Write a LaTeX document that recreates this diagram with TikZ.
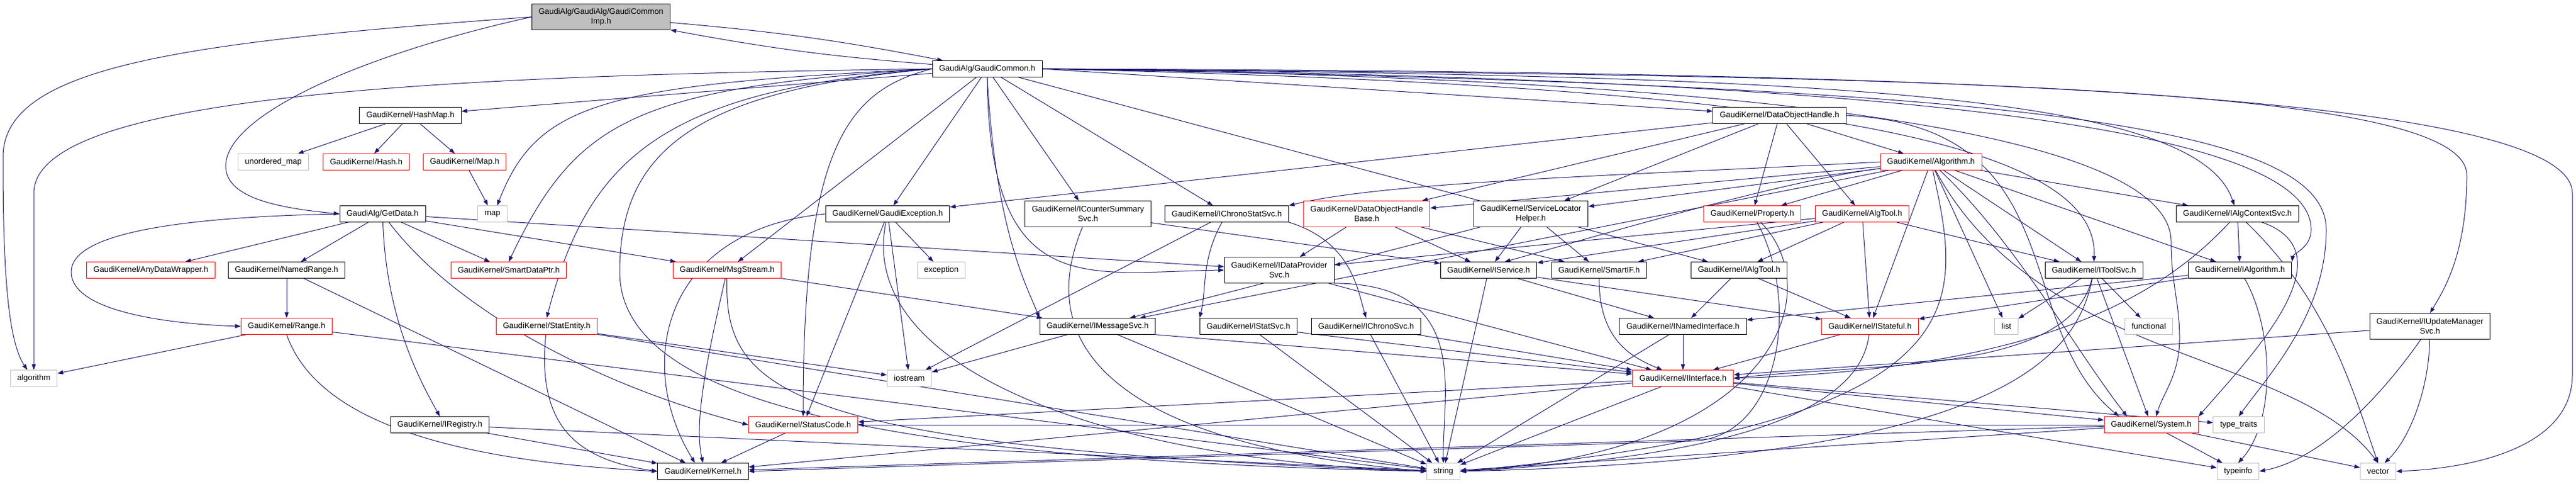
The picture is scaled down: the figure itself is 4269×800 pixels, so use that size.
\documentclass[tikz,border=0pt]{standalone}
\usepackage{fontspec}
\setmainfont{Liberation Sans}
\usetikzlibrary{arrows.meta,backgrounds}
\definecolor{edgeblue}{HTML}{191970}
\definecolor{sysgray}{HTML}{BFBFBF}

\begin{document}
\begin{tikzpicture}[x=0.75pt, y=-0.75pt,
        >={Triangle[length=7pt,width=5pt]},
        file/.style={draw=black, line width=0.75pt, fill=white, inner xsep=8.5pt, inner ysep=0pt, minimum height=20pt, font=\fontsize{10}{12}\selectfont, align=center},
        trunc/.style={file, draw=red},
        sys/.style={file, draw=sysgray},
        twoline/.style={minimum height=32pt},
        dep/.style={->, draw=edgeblue, line width=0.75pt}]
        \useasboundingbox (0,0) rectangle (4269,800);

        \node[file, fill=sysgray, twoline] (imp) at (996,28) {GaudiAlg/GaudiAlg/GaudiCommon\\Imp.h};
        \node[file] (common) at (1636,114) {GaudiAlg/GaudiCommon.h};
        \node[file] (hashmap) at (680,191) {GaudiKernel/HashMap.h};
        \node[file] (dohandle) at (2949,191) {GaudiKernel/DataObjectHandle.h};
        \node[sys] (umap) at (453,268) {unordered\_map};
        \node[trunc] (hash) at (607,268) {GaudiKernel/Hash.h};
        \node[trunc] (mapk) at (770,268) {GaudiKernel/Map.h};
        \node[trunc] (algorithmh) at (3200,268) {GaudiKernel/Algorithm.h};
        \node[file] (getdata) at (634,354) {GaudiAlg/GetData.h};
        \node[sys] (mapstd) at (816,354) {map};
        \node[file] (gexc) at (1471,354) {GaudiKernel/GaudiException.h};
        \node[file, twoline] (counter) at (1803,354) {GaudiKernel/ICounterSummary\\Svc.h};
        \node[file] (ichronostat) at (2033,354) {GaudiKernel/IChronoStatSvc.h};
        \node[trunc, twoline] (dohbase) at (2265,354) {GaudiKernel/DataObjectHandle\\Base.h};
        \node[file, twoline] (slh) at (2537,354) {GaudiKernel/ServiceLocator\\Helper.h};
        \node[trunc] (property) at (2904,354) {GaudiKernel/Property.h};
        \node[trunc] (algtool) at (3086,354) {GaudiKernel/AlgTool.h};
        \node[file] (ialgctx) at (3708,354) {GaudiKernel/IAlgContextSvc.h};
        \node[trunc] (anydata) at (250,447) {GaudiKernel/AnyDataWrapper.h};
        \node[file] (namedrange) at (475,447) {GaudiKernel/NamedRange.h};
        \node[trunc] (smartdataptr) at (843,447) {GaudiKernel/SmartDataPtr.h};
        \node[trunc] (msgstream) at (1205,447) {GaudiKernel/MsgStream.h};
        \node[sys] (exception) at (1560,447) {exception};
        \node[file, twoline] (idataprov) at (2120,447) {GaudiKernel/IDataProvider\\Svc.h};
        \node[file] (iservice) at (2467,447) {GaudiKernel/IService.h};
        \node[file] (smartif) at (2650,447) {GaudiKernel/SmartIF.h};
        \node[file] (ialgtool) at (2882,447) {GaudiKernel/IAlgTool.h};
        \node[file] (itoolsvc) at (3470,447) {GaudiKernel/IToolSvc.h};
        \node[file] (ialgorithm) at (3712,447) {GaudiKernel/IAlgorithm.h};
        \node[trunc] (range) at (475,540) {GaudiKernel/Range.h};
        \node[trunc] (statentity) at (906,540) {GaudiKernel/StatEntity.h};
        \node[file] (imsgsvc) at (1819,540) {GaudiKernel/IMessageSvc.h};
        \node[file] (istatsvc) at (2069,540) {GaudiKernel/IStatSvc.h};
        \node[file] (ichronosvc) at (2264,540) {GaudiKernel/IChronoSvc.h};
        \node[file] (inamed) at (2789,540) {GaudiKernel/INamedInterface.h};
        \node[trunc] (istateful) at (3099,540) {GaudiKernel/IStateful.h};
        \node[sys] (list) at (3325,540) {list};
        \node[sys] (functional) at (3561,540) {functional};
        \node[file, twoline] (iupdate) at (4027,540) {GaudiKernel/IUpdateManager\\Svc.h};
        \node[sys] (algo) at (56,626) {algorithm};
        \node[sys] (iostream) at (1507,626) {iostream};
        \node[trunc] (iinterface) at (2789,626) {GaudiKernel/IInterface.h};
        \node[file] (iregistry) at (729,703) {GaudiKernel/IRegistry.h};
        \node[trunc] (statuscode) at (1331,703) {GaudiKernel/StatusCode.h};
        \node[trunc] (system) at (3565,703) {GaudiKernel/System.h};
        \node[sys] (typetraits) at (3710,703) {type\_traits};
        \node[file] (kernel) at (1165,780) {GaudiKernel/Kernel.h};
        \node[sys] (string) at (2392,780) {string};
        \node[sys] (typeinfo) at (3709,780) {typeinfo};
        \node[sys] (vector) at (3941,780) {vector};

        \begin{scope}[on background layer]
        \draw[dep] (imp.west) .. controls (300,70) and (5,110) .. (5,260) .. controls (5,420) and (10,560) .. ([xshift=-8pt]algo.north);
        \draw[dep] (imp.west) .. controls (600,90) and (374,190) .. (374,275) .. controls (374,330) and (470,345) .. (getdata.west);
        \draw[dep] (imp) to[bend left=3] (common);
        \draw[dep] (common) to[bend left=3] (imp);

        \draw[dep] (common.west) .. controls (700,125) and (56,160) .. (56,320) -- (algo.north);
        \draw[dep] (common) -- (hashmap);
        \draw[dep] (common.west) .. controls (1000,140) and (890,170) .. ([xshift=6pt]mapstd.north);
        \draw[dep] (common.west) .. controls (1050,145) and (955,200) .. (smartdataptr.north);
        \draw[dep] (common.west) .. controls (1100,150) and (975,260) .. (statentity.north);
        \draw[dep] (common.west) .. controls (1150,150) and (1027,250) .. (1027,450) .. controls (1027,650) and (1400,760) .. (string.west);
        \draw[dep] (common.west) .. controls (1400,150) and (1331,250) .. (statuscode.north);
        \draw[dep] (common) -- (msgstream);
        \draw[dep] (common) -- (gexc);
        \draw[dep] (common) -- (counter);
        \draw[dep] (common) -- (ichronostat);
        \draw[dep] (common.south) .. controls (1650,380) and (1700,470) .. (imsgsvc.north west);
        \draw[dep] (common.south) .. controls (1640,500) and (1800,450) .. (idataprov.west);
        \draw[dep] (common.east) -- (dohandle);
        \draw[dep] (common) -- (ialgtool);
        \draw[dep] (common.east) .. controls (2900,140) and (3480,220) .. (itoolsvc.north);
        \draw[dep] (common.east) .. controls (3000,125) and (3640,150) .. ([xshift=-4pt]ialgctx.north);
        \draw[dep] (common.east) .. controls (3300,130) and (3830,230) .. (3830,380) .. controls (3830,410) and (3800,420) .. (ialgorithm.north east);
        \draw[dep] (common.east) .. controls (3000,130) and (3598,230) .. (3598,400) .. controls (3598,470) and (3612,500) .. (3612,560) .. controls (3612,620) and (3585,650) .. ([xshift=6pt]system.north);
        \draw[dep] (common.east) .. controls (3300,140) and (3855,200) .. (3855,380) .. controls (3855,520) and (3760,620) .. (typetraits.north);
        \draw[dep] (common.east) .. controls (3200,125) and (4088,140) .. (4088,290) .. controls (4088,420) and (4050,480) .. (iupdate.north);
        \draw[dep] (common.east) .. controls (3000,118) and (4263,140) .. (4263,320) -- (4263,620) .. controls (4263,740) and (4100,775) .. (vector.east);

        \draw[dep] (hashmap) -- (umap);
        \draw[dep] (hashmap) -- (hash);
        \draw[dep] (hashmap) -- (mapk);
        \draw[dep] (mapk) -- (mapstd);

        \draw[dep] (getdata.west) .. controls (250,360) and (118,395) .. (118,450) .. controls (118,520) and (300,537) .. (range.west);
        \draw[dep] (getdata) -- (anydata);
        \draw[dep] (getdata) -- (namedrange);
        \draw[dep] (getdata) -- (smartdataptr);
        \draw[dep] (getdata) -- (msgstream);
        \draw[dep] (getdata) -- (idataprov);
        \draw[dep] (getdata) .. controls (640,520) and (690,620) .. (iregistry.north);
        \draw[dep] (getdata) .. controls (760,520) and (1000,640) .. (statuscode.west);

        \draw[dep] (namedrange) -- (range);
        \draw[dep] (namedrange) -- (kernel);
        \draw[dep] (range) -- (algo);
        \draw[dep] (range.south) .. controls (520,680) and (700,760) .. (kernel.west);
        \draw[dep] (range) -- (string);
        \draw[dep] (iregistry) -- (kernel);
        \draw[dep] (iregistry) -- (string);

        \draw[dep] (statentity) .. controls (890,700) and (950,760) .. (kernel.west);
        \draw[dep] (statentity) -- (iostream);
        \draw[dep] (statentity) -- (string);
        \draw[dep] (msgstream) .. controls (1170,600) and (1150,700) .. (kernel.north);
        \draw[dep] (msgstream) -- (imsgsvc);
        \draw[dep] (msgstream) .. controls (1200,650) and (1300,740) .. (string.west);

        \draw[dep] (gexc) -- (exception);
        \draw[dep] (gexc) -- (iostream);
        \draw[dep] (gexc) -- (statuscode);
        \draw[dep] (gexc.west) .. controls (1100,380) and (1050,600) .. ([xshift=-10pt]kernel.north);
        \draw[dep] (gexc) .. controls (1420,600) and (1800,760) .. (string.west);

        \draw[dep] (counter) -- (iservice);
        \draw[dep] (counter) .. controls (1700,600) and (1900,740) .. (string.west);
        \draw[dep] (ichronostat) .. controls (1990,430) and (2000,480) .. (istatsvc.north west);
        \draw[dep] (ichronostat.south east) .. controls (2240,400) and (2250,480) .. (ichronosvc.north);
        \draw[dep] (ichronostat) -- (iostream);

        \draw[dep] (idataprov) -- (iinterface);
        \draw[dep] (idataprov.south east) .. controls (2440,470) and (2390,650) .. (string.north);
        \draw[dep] (imsgsvc) -- (iostream);
        \draw[dep] (imsgsvc.south east) -- (iinterface);
        \draw[dep] (imsgsvc) -- (string);
        \draw[dep] (istatsvc) -- (iinterface);
        \draw[dep] (istatsvc) -- (string);
        \draw[dep] (ichronosvc) -- (iinterface);
        \draw[dep] (ichronosvc) -- (string);

        \draw[dep] (dohbase) -- (idataprov);
        \draw[dep] (dohbase) -- (iservice);
        \draw[dep] (dohbase) -- (smartif);
        \draw[dep] (slh) -- (iservice);
        \draw[dep] (slh) -- (smartif);
        \draw[dep] (slh) -- (imsgsvc);

        \draw[dep] (iservice) -- (inamed);
        \draw[dep] (iservice) -- (istateful);
        \draw[dep] (iservice) -- (string);
        \draw[dep] (smartif) .. controls (2650,560) and (2700,590) .. (iinterface);
        \draw[dep] (ialgtool) -- (inamed);
        \draw[dep] (ialgtool) -- (istateful);
        \draw[dep] (inamed) -- (iinterface);
        \draw[dep] (inamed) -- (string);

        \draw[dep] (iinterface) -- (statuscode);
        \draw[dep] (iinterface) -- (kernel);
        \draw[dep] (iinterface) -- (system);
        \draw[dep] (iinterface) -- (typetraits);
        \draw[dep] (iinterface) -- (typeinfo);
        \draw[dep] (iinterface) -- (string);
        \draw[dep] (istateful) -- (iinterface);
        \draw[dep] (istateful) .. controls (3080,700) and (2800,760) .. (string.east);

        \draw[dep] (dohandle) -- (gexc);
        \draw[dep] (dohandle) -- (dohbase);
        \draw[dep] (dohandle) -- (slh);
        \draw[dep] (dohandle) -- (property);
        \draw[dep] (dohandle) -- (algtool);
        \draw[dep] (dohandle) -- (algorithmh);
        \draw[dep] (dohandle.east) .. controls (3440,210) and (3330,540) .. ([xshift=-40pt]system.north);

        \draw[dep] (property) .. controls (2985,500) and (2950,730) .. (2800,730) -- (kernel.east);
        \draw[dep] (property) .. controls (3030,480) and (2950,750) .. (string.east);
        \draw[dep] (algtool) -- (ialgtool);
        \draw[dep] (algtool) -- (istateful);
        \draw[dep] (algtool) -- (itoolsvc);
        \draw[dep] (algtool) -- (iservice);
        \draw[dep] (algtool) -- (smartif);
        \draw[dep] (algtool) -- (idataprov);

        \draw[dep] (algorithmh) -- (property);
        \draw[dep] (algorithmh.west) .. controls (2700,290) and (2300,300) .. (ichronostat.north east);
        \draw[dep] (algorithmh) -- (dohbase);
        \draw[dep] (algorithmh) -- (slh);
        \draw[dep] (algorithmh) .. controls (2950,300) and (2650,390) .. ([xshift=20pt]iservice.north);
        \draw[dep] (algorithmh) -- (imsgsvc);
        \draw[dep] (algorithmh) -- (istateful);
        \draw[dep] (algorithmh) -- (list);
        \draw[dep] (algorithmh) -- (itoolsvc);
        \draw[dep] (algorithmh) -- (ialgctx);
        \draw[dep] (algorithmh) -- (ialgorithm);
        \draw[dep] (algorithmh) .. controls (3340,400) and (3440,580) .. ([xshift=-30pt]system.north);
        \draw[dep] (algorithmh) .. controls (3250,500) and (3300,700) .. (string.east);
        \draw[dep] (algorithmh) .. controls (3380,600) and (3800,580) .. (vector.north);

        \draw[dep] (ialgctx) -- (ialgorithm);
        \draw[dep] (ialgctx) .. controls (3590,480) and (3400,610) .. (iinterface.east);
        \draw[dep] (ialgctx) .. controls (3900,420) and (3720,600) .. (system.north east);
        \draw[dep] (ialgctx) .. controls (3860,500) and (3900,650) .. (vector.north);
        \draw[dep] (itoolsvc) -- (list);
        \draw[dep] (itoolsvc) -- (functional);
        \draw[dep] (itoolsvc) -- (system);
        \draw[dep] (itoolsvc) .. controls (3430,620) and (3100,600) .. (iinterface.east);
        \draw[dep] (itoolsvc) .. controls (3440,600) and (3300,760) .. (string.east);
        \draw[dep] (ialgorithm) -- (inamed);
        \draw[dep] (ialgorithm) -- (istateful);
        \draw[dep] (ialgorithm) .. controls (3770,550) and (3770,700) .. (typeinfo.north);
        \draw[dep] (iupdate) -- (iinterface);
        \draw[dep] (iupdate) .. controls (3950,650) and (3850,760) .. (typeinfo.east);
        \draw[dep] (iupdate) .. controls (4025,650) and (3990,730) .. ([xshift=8pt]vector.north);

        \draw[dep] (system) -- (typeinfo);
        \draw[dep] (system) -- (vector);
        \draw[dep] (system) -- (kernel);
        \draw[dep] (system) -- (string);
        \draw[dep] (system) -- (statuscode);
        \draw[dep] (statuscode) -- (kernel);
        \end{scope}
\end{tikzpicture}
\end{document}
